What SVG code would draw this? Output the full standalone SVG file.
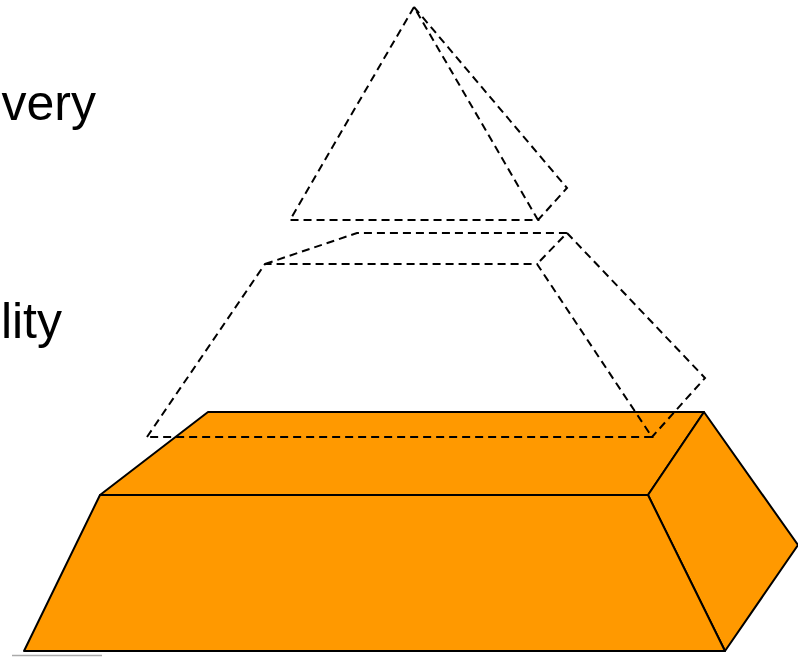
<svg xmlns="http://www.w3.org/2000/svg" width="798" height="657" viewBox="0 0 798 657">
<style>
.solid{fill:#FF9900;stroke:#000;stroke-width:2;stroke-linejoin:round}
.dash{fill:none;stroke:#000;stroke-width:2;stroke-dasharray:8,5}
.lbl{font-family:"Liberation Sans",Arial,sans-serif;font-size:50px;fill:#000}
</style>
<rect width="798" height="657" fill="#fff"/>
<g id="label-very"><text class="lbl" x="96" y="120" text-anchor="end">very</text></g>
<g id="label-lity"><text class="lbl" x="62" y="338" text-anchor="end">lity</text></g>
<g id="base-layer">
<polygon class="solid" points="100,495 208,412 704,412 648,495"/>
<polygon class="solid" points="648,495 704,412 798,545 725,651"/>
<polygon class="solid" points="100,495 648,495 725,651 24,651"/>
</g>
<g id="middle-layer">
<path class="dash" d="M147,437 L265,264 L537,264 L652,437 Z M265,264 L357,233 L567,233 L537,264 M567,233 L705,378 L652,437"/>
</g>
<g id="top-layer">
<path class="dash" d="M414,7 L290,220 L538,220 Z M414,7 L567,188 L538,220"/>
</g>
<g id="connectors"/>
<line x1="12" y1="655.5" x2="102" y2="655.5" stroke="#aaa" stroke-width="1.5"/>
</svg>
